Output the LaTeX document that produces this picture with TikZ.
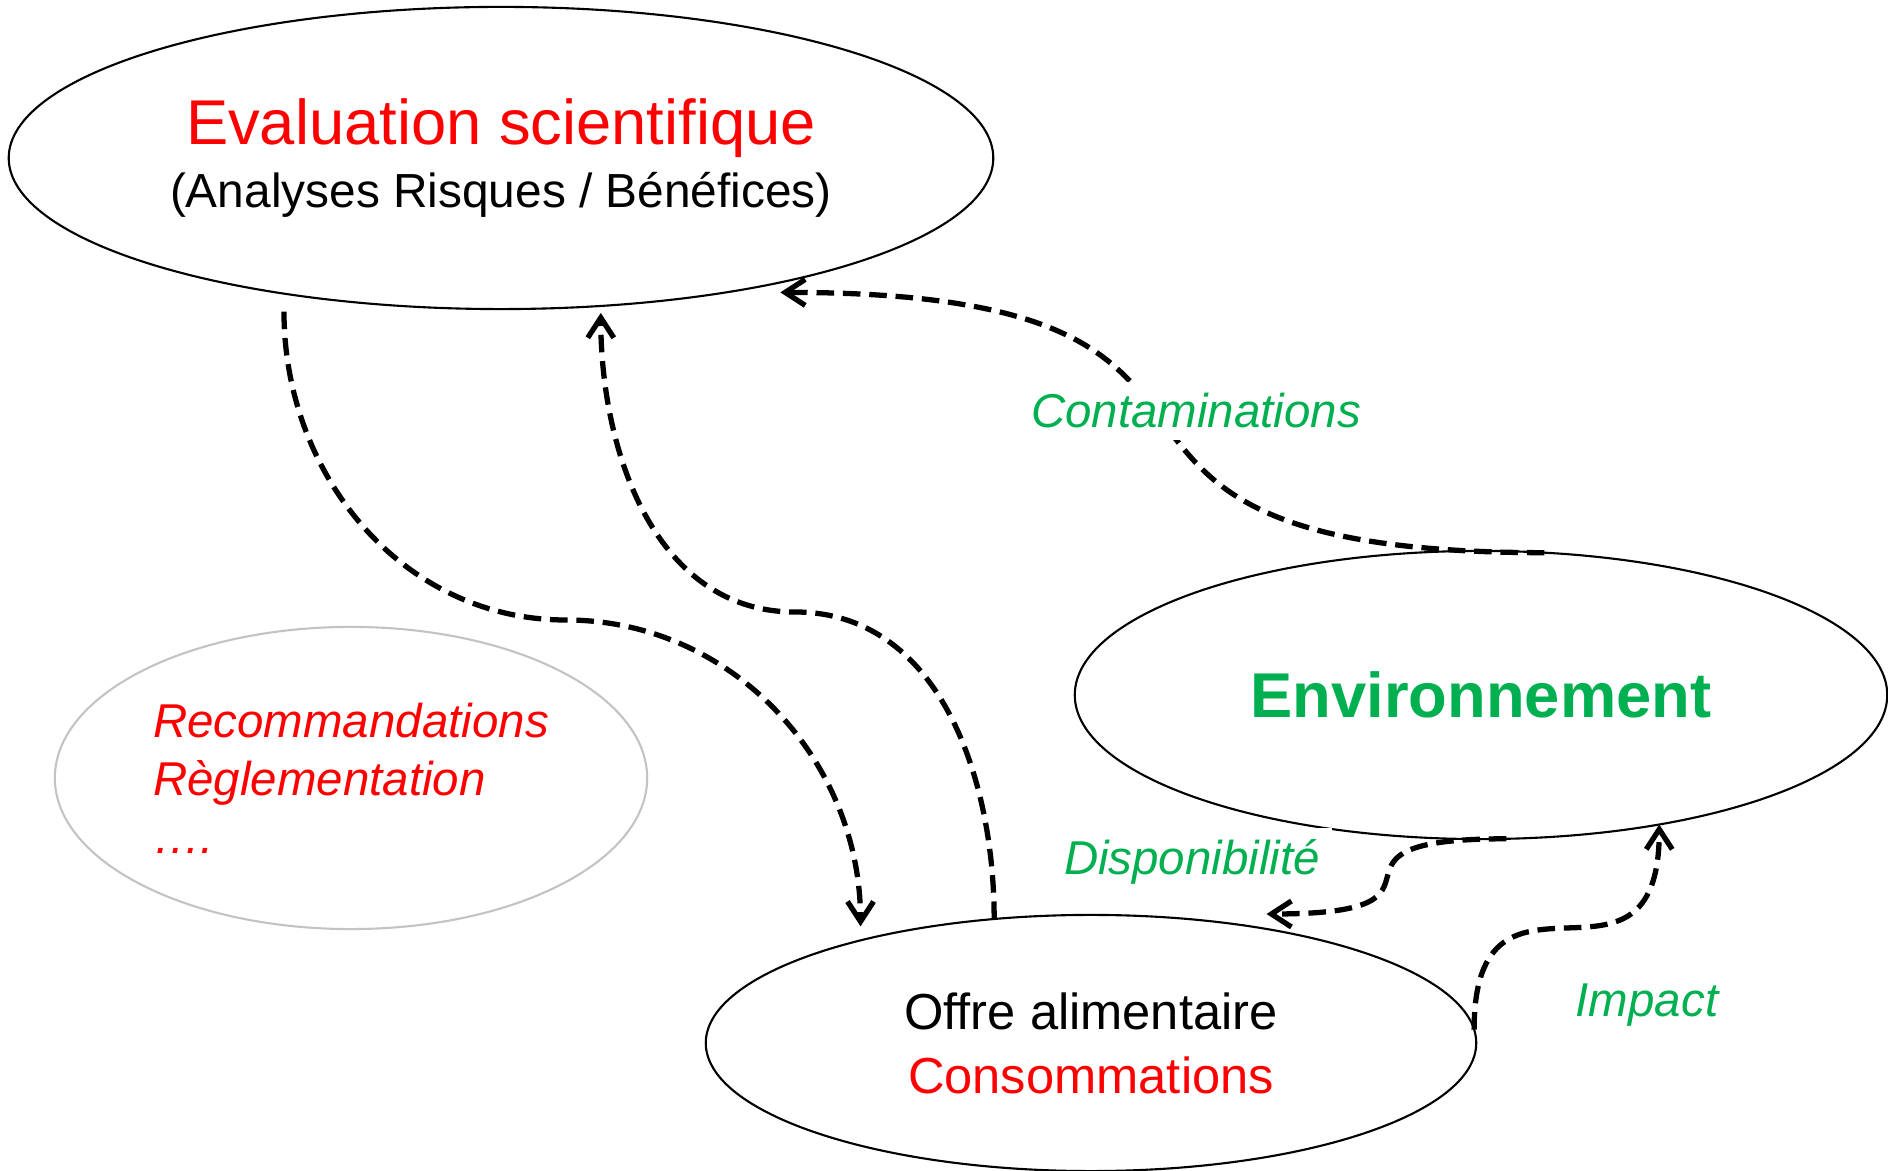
\documentclass[tikz,border=0pt]{standalone}
\usepackage{fontspec}
\setmainfont{Liberation Sans}
\usetikzlibrary{arrows.meta,shapes.geometric}
\definecolor{vert}{RGB}{0,176,80}
\definecolor{gris}{RGB}{195,195,195}

\begin{document}
\begin{tikzpicture}[x=0.01cm,y=-0.01cm,
  bulle/.style={draw,ellipse,line width=0.6pt,inner sep=0pt,outer sep=0pt},
  flux/.style={line width=1.5pt,dash pattern=on 5pt off 2.5pt,-{Straight Barb[length=2mm,width=2.6mm]}},
  etiq/.style={font=\fontsize{13.5}{16}\selectfont\itshape,text=vert,fill=white,inner sep=0.12cm}]
\useasboundingbox (0,0) rectangle (1888,1171);
\node[bulle,minimum width=9.84cm,minimum height=3.02cm,align=center,font=\fontsize{13.6}{18}\selectfont] (eval) at (501,158) {{\fontsize{18}{18}\selectfont\color{red}Evaluation scientifique}\\(Analyses Risques / Bénéfices)};
\node[bulle,draw=gris,minimum width=5.92cm,minimum height=3.02cm,align=left,text=red,font=\fontsize{13.5}{16.5}\selectfont\itshape] (reco) at (351,778) {Recommandations\\Règlementation\\….};
\node[bulle,minimum width=8.12cm,minimum height=2.88cm,text=vert,font=\fontsize{18}{20}\selectfont\bfseries] (envi) at (1481,695) {Environnement};
\node[bulle,minimum width=7.7cm,minimum height=2.56cm,align=center,font=\fontsize{14.4}{18.2}\selectfont] (offre) at (1091,1043) {Offre alimentaire\\\textcolor{red}{Consommations}};
\coordinate (coude1) at (566,620);
\coordinate (coude2) at (795,612);
\draw[flux] ([yshift=-0.18cm]eval.212) to[out=-90,in=180] (coude1) to[out=0,in=90] ([yshift=0.14cm]offre.156);
\draw[flux] (offre.128) to[out=90,in=0] (coude2) to[out=180,in=-90] ([yshift=-0.07cm]eval.304);
\draw[flux] (envi.66) to[out=180,in=0,looseness=1.8] ([yshift=-0.1cm]eval.336);
\draw[flux] (envi.280) to[out=180,in=0,looseness=2.2] ([yshift=0.15cm]offre.33);
\draw[flux] (offre.2) to[out=90,in=-90,looseness=1.8] (envi.324);
\node[etiq] (contam) at (1196,411) {Contaminations};
\node[etiq] (dispo) at (1192,862) {Disponibilité};
\node[etiq] (impact) at (1647,1005) {Impact};
\end{tikzpicture}
\end{document}
